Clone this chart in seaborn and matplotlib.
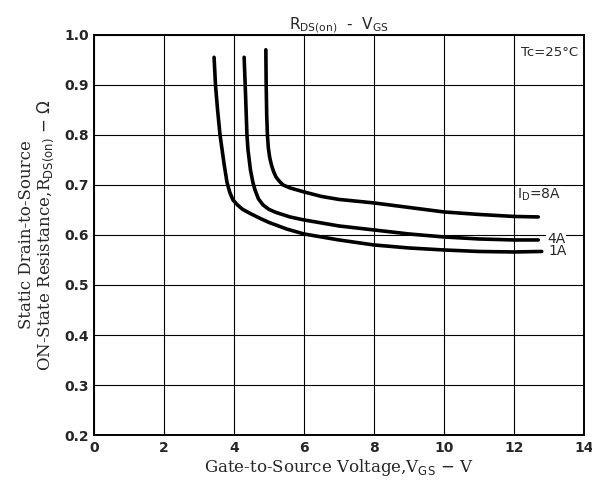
import matplotlib
matplotlib.use("Agg")
import matplotlib.pyplot as plt
import pandas as pd
import seaborn as sns

# ====== DATA ======
VGS_1A = [3.43, 3.47, 3.53, 3.6, 3.66, 3.72, 3.8, 3.88, 3.97, 4.1, 4.25, 4.46, 4.75, 5.0, 5.5,
          6.0, 7.0, 8.0, 9.0, 10.0, 11.0, 12.0, 12.8]
RDS_1A = [0.955, 0.90, 0.85, 0.80, 0.77, 0.74, 0.705, 0.685, 0.670, 0.66, 0.651, 0.643, 0.633, 0.625, 0.612,
          0.602, 0.59, 0.58, 0.574, 0.57, 0.567, 0.566, 0.567]

VGS_4A = [4.29, 4.33, 4.37, 4.4, 4.47, 4.54, 4.6, 4.7, 4.83, 5.0, 5.2, 5.6, 6.0,
          7.0, 8.0, 9.0, 10.0, 11.0, 12.0, 12.7]
RDS_4A = [0.955, 0.88, 0.80, 0.77, 0.73, 0.705, 0.69, 0.672, 0.66, 0.651, 0.645, 0.636, 0.63,
          0.618, 0.61, 0.602, 0.596, 0.592, 0.59, 0.59]

VGS_8A = [4.91, 4.92, 4.935, 4.955, 4.98, 5.02, 5.07, 5.13, 5.2, 5.3, 5.4, 5.6, 6.0, 6.5, 7.0,
          8.0, 9.0, 10.0, 11.0, 12.0, 12.7]
RDS_8A = [0.97, 0.90, 0.84, 0.80, 0.775, 0.755, 0.74, 0.727, 0.716, 0.707, 0.70, 0.694, 0.686, 0.677, 0.671,
          0.664, 0.655, 0.646, 0.641, 0.637, 0.636]

X_TICKS = [0, 2, 4, 6, 8, 10, 12, 14]
Y_TICKS = [0.2, 0.3, 0.4, 0.5, 0.6, 0.7, 0.8, 0.9, 1.0]
Y_TICK_LABELS = ["0.2", "0.3", "0.4", "0.5", "0.6", "0.7", "0.8", "0.9", "1.0"]
# ===========================================


def build_frame():
    parts = []
    for label, xs, ys in [("1A", VGS_1A, RDS_1A), ("4A", VGS_4A, RDS_4A), ("8A", VGS_8A, RDS_8A)]:
        parts.append(pd.DataFrame({"VGS": xs, "RDS": ys, "ID": label}))
    return pd.concat(parts, ignore_index=True)


def main():
    sns.set_style("white")
    plt.rcParams["font.family"] = ["DejaVu Sans"]

    data = build_frame()

    fig = plt.figure(figsize=(5.92, 4.9), dpi=100)
    ax = fig.add_axes([0.159, 0.112, 0.827, 0.817])

    sns.lineplot(
        data=data, x="VGS", y="RDS", hue="ID",
        palette={"1A": "black", "4A": "black", "8A": "black"},
        sort=False, estimator=None, linewidth=2.6, legend=False, ax=ax,
    )

    ax.set_xlim(0, 14)
    ax.set_ylim(0.2, 1.0)
    ax.set_xticks(X_TICKS)
    ax.set_yticks(Y_TICKS)
    ax.set_yticklabels(Y_TICK_LABELS)
    ax.tick_params(length=0, labelsize=10, pad=4)
    for lbl in ax.get_xticklabels() + ax.get_yticklabels():
        lbl.set_fontweight("bold")

    ax.grid(True, color="black", linewidth=0.8)
    for sp in ax.spines.values():
        sp.set_color("black")
        sp.set_linewidth(1.4)

    ax.set_xlabel(r"Gate-to-Source Voltage,V$_{\mathrm{GS}}$ $-$ V",
                  fontsize=12, family="DejaVu Serif", labelpad=2)
    ax.set_ylabel("Static Drain-to-Source\n"
                  r"ON-State Resistance,R$_{\mathrm{DS(on)}}$ $-$ $\Omega$",
                  fontsize=12, family="DejaVu Serif", labelpad=6, linespacing=1.0)
    ax.set_title(r"R$_{\mathrm{DS(on)}}$  -  V$_{\mathrm{GS}}$", fontsize=11, pad=4)

    ax.text(13.85, 0.964, "Tc=25°C", ha="right", va="center", fontsize=9.5,
            bbox=dict(facecolor="white", edgecolor="none", pad=1))
    ax.text(12.1, 0.664, r"I$_{\mathrm{D}}$=8A", ha="left", va="bottom", fontsize=10,
            bbox=dict(facecolor="white", edgecolor="none", pad=0.5))
    ax.text(12.95, 0.592, "4A", ha="left", va="center", fontsize=10,
            bbox=dict(facecolor="white", edgecolor="none", pad=0.5))
    ax.text(13.0, 0.567, "1A", ha="left", va="center", fontsize=10,
            bbox=dict(facecolor="white", edgecolor="none", pad=0.5))

    fig.savefig("out.png", dpi=100)
    plt.close(fig)


if __name__ == "__main__":
    main()
